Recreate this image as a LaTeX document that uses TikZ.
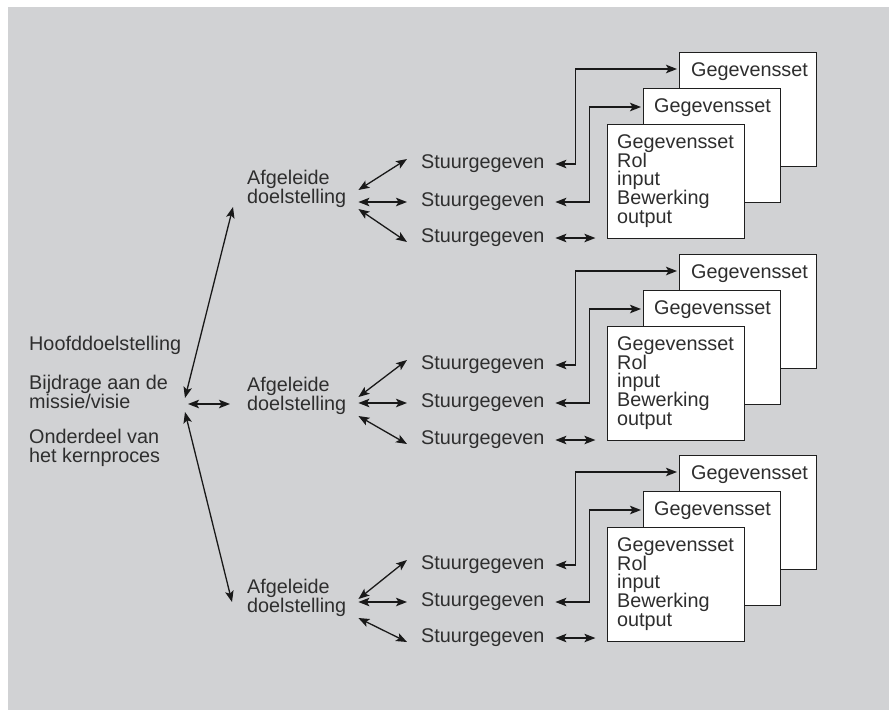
\documentclass[tikz,border=0pt]{standalone}
\usepackage{fontspec}
\setmainfont{Liberation Sans}
\usetikzlibrary{arrows.meta}
\definecolor{bg}{HTML}{D1D2D4}
\definecolor{ink}{HTML}{2E2E2E}
\begin{document}
\begin{tikzpicture}[x=1pt,y=-1pt,
  txt/.style={inner sep=0pt, anchor=west, align=left, text=ink,
    font=\fontsize{19.8}{18.8}\selectfont},
  afgnode/.style={txt, text width=111pt},
  stnode/.style={txt, inner xsep=14pt, text width=120pt},
  card/.style={draw=black!88, fill=white, line width=1.3pt,
    minimum width=137pt, minimum height=114pt, anchor=north west, inner sep=0pt},
  dar/.style={line width=1.3pt, draw=black!90, {Stealth[length=11pt,width=8.5pt,inset=2.5pt]}-{Stealth[length=11pt,width=8.5pt,inset=2.5pt]}}
]
\useasboundingbox (0,0) rectangle (891,710);
\fill[white] (0,0) rectangle (891,710);
\fill[bg] (8,7) rectangle (889,710);

% left texts
\node[txt] (hoofd) at (29,345) {Hoofddoelstelling};
\node[txt] (bijdr) at (29,392) {Bijdrage aan de\\missie/visie};
\node[txt] (onder) at (29,448) {Onderdeel van\\het kernproces};
\coordinate (hub) at (186,405);

\foreach \g/\ay/\sa/\sb/\sc/\bt in {1/189/164/202/238/52, 2/396/365/403/440/254, 3/598/565/602/638/455} {
  \node[afgnode] (afg\g) at (247,\ay) {Afgeleide\\doelstelling};
  \node[stnode] (sa\g) at (407,\sa) {Stuurgegeven};
  \node[stnode] (sb\g) at (407,\sb) {Stuurgegeven};
  \node[stnode] (sc\g) at (407,\sc) {Stuurgegeven};
  % cards
  \node[card] (bc\g) at (679,\bt) {};
  \node[txt] (tc\g) at (691,\bt+20) {Gegevensset};
  \node[card] (bb\g) at (643,\bt+36) {};
  \node[txt] (tb\g) at (654,\bt+56) {Gegevensset};
  \node[card] (ba\g) at (607,\bt+72) {};
  \node[txt] (ta\g) at (617,\bt+129) {Gegevensset\\Rol\\input\\Bewerking\\output};
  % arrows afg -> stuurgegeven
  \draw[dar] ([shift={(0,1)}]afg\g.east) -- ([shift={(0,-5)}]sa\g.west);
  \draw[dar] (afg\g.east |- sb\g.west) -- (sb\g.west);
  \draw[dar] ([shift={(0,20)}]afg\g.east) -- ([shift={(0,4)}]sc\g.west);
  % stuurgegeven -> cards
  \draw[dar] (sa\g.east) -- ++(20,0) |- ([shift={(-2,17)}]bc\g.north west);
  \draw[dar] (sb\g.east) -- ++(34,0) |- ([shift={(-2,19)}]bb\g.north west);
  \draw[dar] (sc\g.east) -- ++(40,0);
}

% main arrows
\draw[dar] ([shift={(-1,-7)}]hub) -- ([shift={(-14,18)}]afg1.west);
\draw[dar] ([shift={(2,-1)}]hub) -- ([shift={(-17,8)}]afg2.west);
\draw[dar] ([shift={(-1,7)}]hub) -- ([shift={(-15,4)}]afg3.west);
\end{tikzpicture}
\end{document}
